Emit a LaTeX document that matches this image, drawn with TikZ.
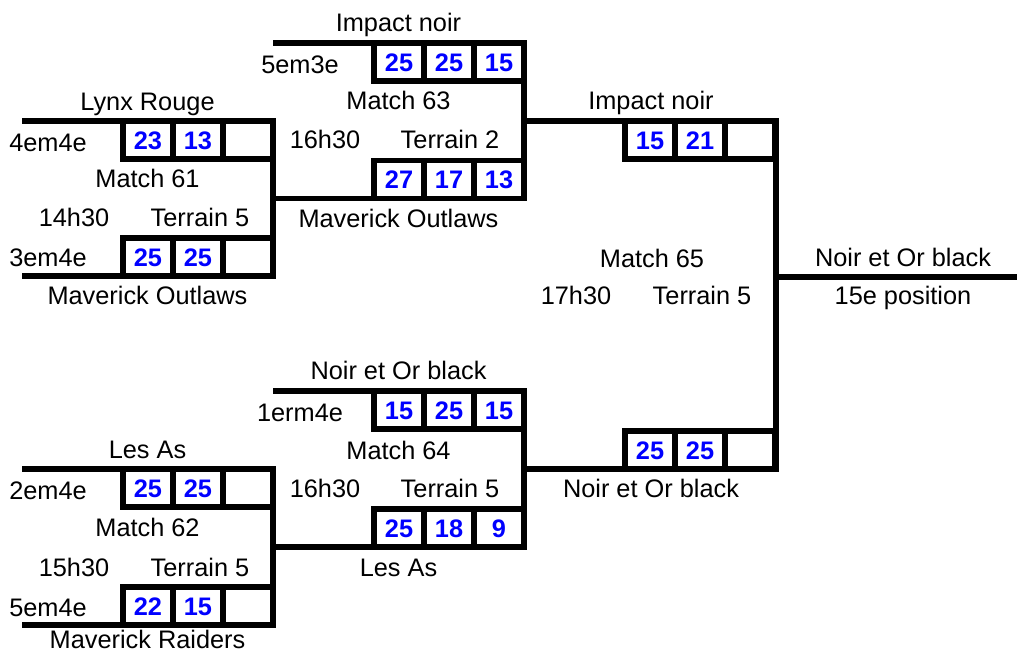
\documentclass[tikz,border=0pt]{standalone}
\usepackage{fontspec}
\setmainfont{Liberation Sans}
\definecolor{scoreblue}{RGB}{0,0,255}
\tikzset{
  bracket/.style={line width=4pt, line join=miter, line cap=butt},
  scorebox/.style={draw, line width=4pt, minimum width=37.5pt, minimum height=28.5pt,
    inner sep=0pt, outer sep=0pt, text=scoreblue, font=\fontsize{19}{21}\selectfont\bfseries,
    text height=13.6pt, text depth=0pt},
  lbl/.style={inner sep=0pt, font=\fontsize{19}{21}\selectfont, text height=13.6pt, text depth=0pt}
}
\begin{document}
\begin{tikzpicture}[x=0.75pt,y=-0.75pt]
\useasboundingbox (0,0) rectangle (1017,653);

% exit coordinates
\coordinate (m61) at (273,198.5);
\coordinate (m62) at (273,547);
\coordinate (m63) at (524,121);
\coordinate (m64) at (524,469);
\coordinate (m65) at (776,277);
\coordinate (fin) at (1017,277);

% ---------------- Match 61 ----------------
\draw[bracket] (22,121) -- (273,121) -- (273,276) -- (22,276);
\node[lbl] (t61a) at (147.5,101) {Lynx Rouge};
\node[lbl] (r61a) at (48,142) {4em4e};
\node[scorebox] (s61a1) at (148,140) {23};
\node[scorebox] (s61a2) at (198,140) {13};
\node[scorebox] (s61a3) at (248,140) {};
\node[lbl] (n61) at (147.5,178) {Match 61};
\node[lbl] (h61) at (74,217) {14h30};
\node[lbl] (f61) at (200,217) {Terrain 5};
\node[lbl] (r61b) at (48,257) {3em4e};
\node[scorebox] (s61b1) at (148,257) {25};
\node[scorebox] (s61b2) at (198,257) {25};
\node[scorebox] (s61b3) at (248,257) {};
\node[lbl] (t61b) at (147.5,295) {Maverick Outlaws};

% ---------------- Match 63 ----------------
\draw[bracket] (m61) -- (524,198.5) -- (524,43) -- (273,43);
\node[lbl] (t63a) at (398.5,22) {Impact noir};
\node[lbl] (r63a) at (300,64) {5em3e};
\node[scorebox] (s63a1) at (399,62) {25};
\node[scorebox] (s63a2) at (449,62) {25};
\node[scorebox] (s63a3) at (499,62) {15};
\node[lbl] (n63) at (398.5,100) {Match 63};
\node[lbl] (h63) at (325,139) {16h30};
\node[lbl] (f63) at (450,139) {Terrain 2};
\node[scorebox] (s63b1) at (399,179.5) {27};
\node[scorebox] (s63b2) at (449,179.5) {17};
\node[scorebox] (s63b3) at (499,179.5) {13};
\node[lbl] (t63b) at (398.5,218) {Maverick Outlaws};

% ---------------- Match 62 ----------------
\draw[bracket] (22,469) -- (273,469) -- (273,625) -- (22,625);
\node[lbl] (t62a) at (147.5,449) {Les As};
\node[lbl] (r62a) at (48,490) {2em4e};
\node[scorebox] (s62a1) at (148,488) {25};
\node[scorebox] (s62a2) at (198,488) {25};
\node[scorebox] (s62a3) at (248,488) {};
\node[lbl] (n62) at (147.5,527) {Match 62};
\node[lbl] (h62) at (74,567) {15h30};
\node[lbl] (f62) at (200,567) {Terrain 5};
\node[lbl] (r62b) at (48,607) {5em4e};
\node[scorebox] (s62b1) at (148,606) {22};
\node[scorebox] (s62b2) at (198,606) {15};
\node[scorebox] (s62b3) at (248,606) {};
\node[lbl] (t62b) at (147.5,639) {Maverick Raiders};

% ---------------- Match 64 ----------------
\draw[bracket] (m62) -- (524,547) -- (524,391) -- (273,391);
\node[lbl] (t64a) at (398.5,370) {Noir et Or black};
\node[lbl] (r64a) at (300,412) {1erm4e};
\node[scorebox] (s64a1) at (399,410) {15};
\node[scorebox] (s64a2) at (449,410) {25};
\node[scorebox] (s64a3) at (499,410) {15};
\node[lbl] (n64) at (398.5,450) {Match 64};
\node[lbl] (h64) at (325,488) {16h30};
\node[lbl] (f64) at (450,488) {Terrain 5};
\node[scorebox] (s64b1) at (399,528) {25};
\node[scorebox] (s64b2) at (449,528) {18};
\node[scorebox] (s64b3) at (499,528) {9};
\node[lbl] (t64b) at (398.5,567) {Les As};

% ---------------- Match 65 ----------------
\draw[bracket] (m63) -- (776,121) -- (776,469) -- (m64);
\node[lbl] (t65a) at (651,100) {Impact noir};
\node[scorebox] (s65a1) at (650,140) {15};
\node[scorebox] (s65a2) at (700,140) {21};
\node[scorebox] (s65a3) at (750,140) {};
\node[lbl] (n65) at (652,258) {Match 65};
\node[lbl] (h65) at (576,295) {17h30};
\node[lbl] (f65) at (702,295) {Terrain 5};
\node[scorebox] (s65b1) at (650,450) {25};
\node[scorebox] (s65b2) at (700,450) {25};
\node[scorebox] (s65b3) at (750,450) {};
\node[lbl] (t65b) at (651,488) {Noir et Or black};

% ---------------- Final ----------------
\draw[bracket] (m65) -- (fin);
\node[lbl] (win) at (903,257) {Noir et Or black};
\node[lbl] (pos) at (903,295) {15e position};
\end{tikzpicture}
\end{document}
